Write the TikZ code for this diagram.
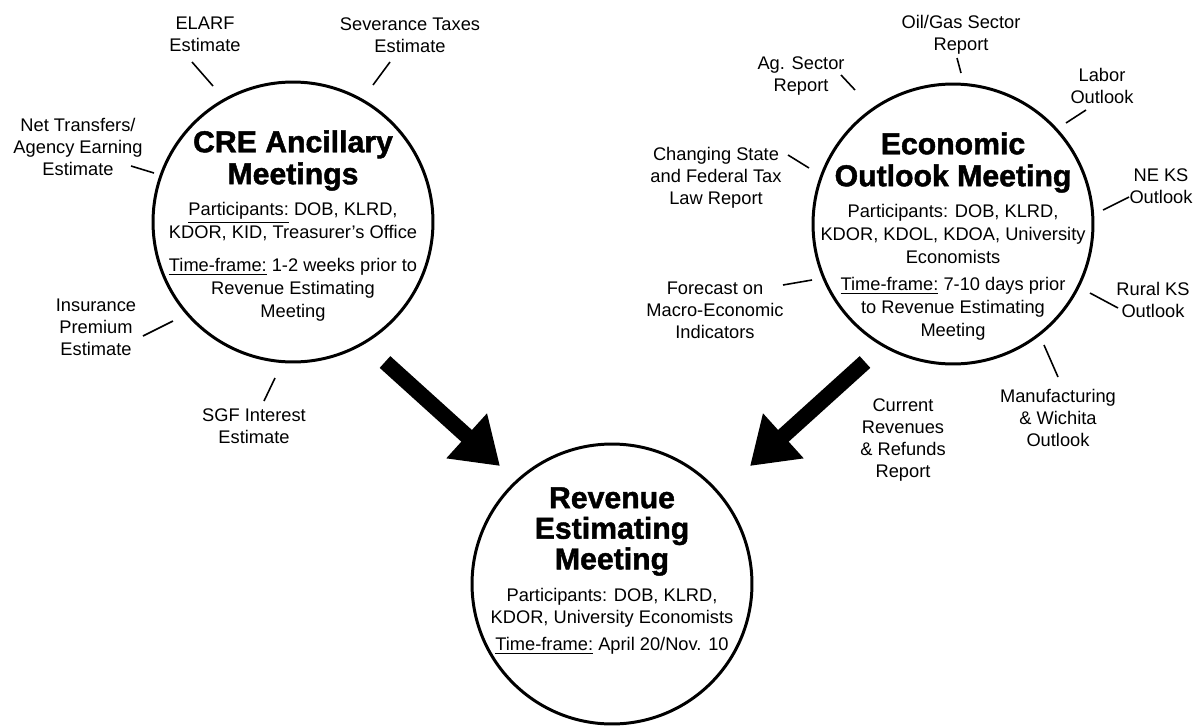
\documentclass[tikz,border=0pt]{standalone}
\usepackage{fontspec}
\setmainfont{Liberation Sans}
\newfontfamily\headfont{Liberation Sans Bold}[FakeBold=1.5]
\usetikzlibrary{positioning,arrows.meta}

\begin{document}
\begin{tikzpicture}[
  x=0.02cm, y=-0.02cm,
  meet/.style={circle, draw, line width=1.7pt, minimum size=5.6cm, inner sep=0pt},
  head/.style={anchor=north, inner sep=0pt, align=center,
               font=\headfont\fontsize{17.2}{18.2}\selectfont},
  body/.style={inner sep=0pt, align=center, font=\fontsize{10.4}{13}\selectfont},
  lbl/.style={anchor=north, inner sep=0pt, align=center,
              font=\fontsize{10.4}{12.5}\selectfont},
  spoke/.style={line width=0.9pt},
  bigarrow/.style={line width=9pt, -{Triangle[length=0.9cm, width=1.15cm]}}
]
\useasboundingbox (0,0) rectangle (1200,727);

% the three meetings
\node[meet] (cre) at (293,222) {};
\node[meet] (eom) at (953,224) {};
\node[meet] (rem) at (612,584) {};

\node[head] (creHead) at (293,130) {CRE Ancillary\\Meetings};
\node[body, below=6.5pt of creHead] (creBody)
  {\underline{Participants:} DOB, KLRD,\\KDOR, KID, Treasurer’s Office\\[5.7pt]
   \underline{Time-frame:} 1-2 weeks prior to\\Revenue Estimating\\Meeting};

\node[head] (eomHead) at (953,132) {Economic\\Outlook Meeting};
\node[body, below=6.5pt of eomHead] (eomBody)
  {Participants: DOB, KLRD,\\KDOR, KDOL, KDOA, University\\Economists\\[2.3pt]
   \underline{Time-frame:} 7-10 days prior\\to Revenue Estimating\\Meeting};

\node[head, font=\headfont\fontsize{17.2}{17.4}\selectfont] (remHead) at (612,487)
  {Revenue\\Estimating\\Meeting};
\node[body, below=6.5pt of remHead] (remBody)
  {Participants: DOB, KLRD,\\KDOR, University Economists\\[2.3pt]
   \underline{Time-frame:} April 20/Nov. 10};

% inputs to CRE ancillary meetings
\node[lbl] (elarf) at (205,17) {ELARF\\Estimate};
\node[lbl] (sev) at (410,17) {Severance Taxes\\Estimate};
\node[lbl] (netx) at (78,118) {Net Transfers/\\Agency Earning\\Estimate};
\node[lbl] (ins) at (96,299) {Insurance\\Premium\\Estimate};
\node[lbl] (sgf) at (254,408) {SGF Interest\\Estimate};

% inputs to economic outlook meeting
\node[lbl] (oil) at (961,15) {Oil/Gas Sector\\Report};
\node[lbl] (ag) at (801,56) {Ag. Sector\\Report};
\node[lbl] (labor) at (1102,68) {Labor\\Outlook};
\node[lbl] (tax) at (716,147) {Changing State\\and Federal Tax\\Law Report};
\node[lbl] (neks) at (1161,168) {NE KS\\Outlook};
\node[lbl] (fcst) at (715,282) {Forecast on\\Macro-Economic\\Indicators};
\node[lbl] (rural) at (1153,282) {Rural KS\\Outlook};
\node[lbl] (mfg) at (1058,389) {Manufacturing\\\& Wichita\\Outlook};
\node[lbl] (curr) at (903,398) {Current\\Revenues\\\& Refunds\\Report};

% ticks
\draw[spoke] (192,62) -- (213,86);
\draw[spoke] (390,62) -- (373,85);
\draw[spoke] (131,166) -- (154,173);
\draw[spoke] (143,336) -- (173,321);
\draw[spoke] (275,378) -- (264,401);
\draw[spoke] (957,58) -- (961,73);
\draw[spoke] (841,75) -- (855,90);
\draw[spoke] (1086,110) -- (1066,123);
\draw[spoke] (788,155) -- (809,168);
\draw[spoke] (1129,197) -- (1103,210);
\draw[spoke] (783,285) -- (812,280);
\draw[spoke] (1090,293) -- (1118,308);
\draw[spoke] (1044,345) -- (1058,377);

% flow into revenue estimating
\coordinate (creTail) at (385,362);
\coordinate (eomTail) at (865,362);
\coordinate (remL) at (500,466);
\coordinate (remR) at (750,466);
\draw[bigarrow] (creTail) -- (remL);
\draw[bigarrow] (eomTail) -- (remR);
\end{tikzpicture}
\end{document}
